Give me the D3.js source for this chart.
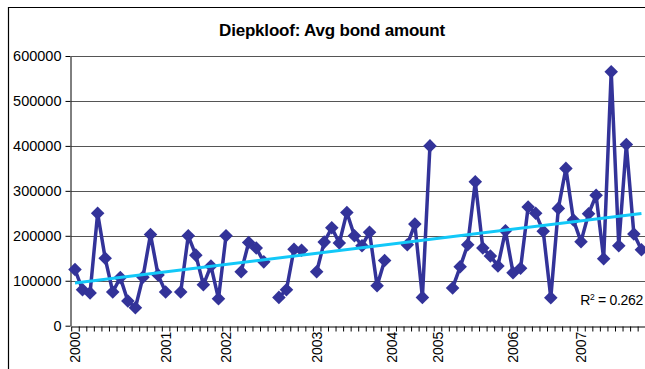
<!DOCTYPE html>
<html>
<head>
<meta charset="utf-8">
<script src="https://cdn.jsdelivr.net/npm/d3@7"></script>
<style>
  html, body { margin: 0; padding: 0; background: #fff; }
  svg { display: block; font-family: "Liberation Sans", Arial, sans-serif; }
</style>
</head>
<body>
<svg id="chart" width="645" height="369"></svg>
<script>
// Monthly average bond amount, Diepkloof (null = no registrations that month)
const bondAmount = [
  125000, 80000, 73000, 250000, 150000, 75000, 107000, 55000, 40000, 108000, 203000, 113000,
  75000, null, 75000, 200000, 157000, 91000, 133000, 60000,
  200000, null, 120000, 185000, 173000, 142000, null, 63000, 80000, 170000, 168000, null,
  120000, 186000, 218000, 184000, 252000, 200000, 178000, 208000, 89000, 145000,
  null, null, 180000, 226000, 63000, 400000,
  null, null, 84000, 131000, 180000, 320000, 173000, 155000, 133000, 211000, 118000, 128000,
  264000, 250000, 210000, 62000, 261000, 350000, 235000, 187000, 249000,
  290000, 149000, 565000, 178000, 403000, 204000, 169000
];

// Year labels and the period on which each one sits
const yearLabels = ["2000", "2001", "2002", "2003", "2004", "2005", "2006", "2007"];
const yearStartIndex = [0, 12, 20, 32, 42, 48, 58, 67];

const yTicks = [0, 100000, 200000, 300000, 400000, 500000, 600000];
const rSquared = 0.262;
const chartTitle = "Diepkloof: Avg bond amount";

const svg = d3.select("#chart");
const W = 645, H = 369;
const plot = { left: 71.2, right: 645.2, top: 56, bottom: 325.7 };

svg.append("rect").attr("width", W).attr("height", H).attr("fill", "#fff");

// outer chart frame (continues past the visible edges)
svg.append("path")
  .attr("d", `M8.5,${H + 5} V7.5 H${W + 5}`)
  .attr("fill", "none").attr("stroke", "#000").attr("stroke-width", 1.2);

const periods = d3.range(bondAmount.length);
const x = d3.scaleBand().domain(periods).range([plot.left, plot.right]).padding(0);
const cx = i => x(i) + x.bandwidth() / 2;
const xEdges = d3.scaleLinear().domain([0, periods.length]).range([plot.left, plot.right]);
const y = d3.scaleLinear().domain([0, 600000]).range([plot.bottom, plot.top]);

// horizontal gridlines
svg.append("g").selectAll("line")
  .data(yTicks.filter(t => t > 0))
  .join("line")
  .attr("x1", plot.left).attr("x2", W + 5)
  .attr("y1", d => Math.round(y(d)) + 0.5).attr("y2", d => Math.round(y(d)) + 0.5)
  .attr("stroke", "#555").attr("stroke-width", 1);

// y axis
const yAxis = svg.append("g")
  .attr("transform", `translate(${Math.round(plot.left) - 0.5},0)`)
  .call(d3.axisLeft(y).tickValues(yTicks).tickFormat(d3.format("d"))
    .tickSize(5).tickSizeOuter(0).tickPadding(4));
yAxis.select(".domain").attr("stroke", "#000");
yAxis.selectAll(".tick line").attr("stroke", "#000");
yAxis.selectAll("text")
  .attr("font-family", "'Liberation Sans', Arial, sans-serif")
  .attr("font-size", 14.5).attr("fill", "#000");

// x axis: tick marks between periods
const xTickAxis = svg.append("g")
  .attr("transform", `translate(0,${Math.round(plot.bottom) + 0.5})`)
  .call(d3.axisBottom(xEdges).tickValues(d3.range(periods.length + 1))
    .tickFormat("").tickSize(5).tickSizeOuter(0));
xTickAxis.select(".domain").attr("stroke", "#000");
xTickAxis.selectAll(".tick line").attr("stroke", "#000");

// x axis: year labels on their periods
const labelAt = new Map(yearStartIndex.map((idx, k) => [idx, yearLabels[k]]));
const xLabelAxis = svg.append("g")
  .attr("transform", `translate(0,${plot.bottom})`)
  .call(d3.axisBottom(x).tickValues(yearStartIndex)
    .tickFormat(i => labelAt.get(i)).tickSize(0));
xLabelAxis.select(".domain").remove();
xLabelAxis.selectAll("text")
  .attr("transform", "rotate(-90)")
  .attr("x", -6).attr("y", 0).attr("dy", "0.36em")
  .attr("text-anchor", "end")
  .attr("font-family", "'Liberation Sans', Arial, sans-serif")
  .attr("font-size", 14).attr("fill", "#000");

// series line
const line = d3.line()
  .defined(d => d.v != null)
  .x(d => cx(d.i)).y(d => y(d.v));
const pts = bondAmount.map((v, i) => ({ i, v }));
svg.append("path")
  .datum(pts)
  .attr("d", line)
  .attr("fill", "none").attr("stroke", "#333399")
  .attr("stroke-width", 3.5).attr("stroke-linejoin", "round");

// diamond markers
const diamond = d3.symbol(d3.symbolSquare, 92);
svg.append("g").selectAll("path")
  .data(pts.filter(d => d.v != null))
  .join("path")
  .attr("transform", d => `translate(${cx(d.i)},${y(d.v)}) rotate(45)`)
  .attr("d", diamond)
  .attr("fill", "#333399");

// linear trend (least squares over the recorded months)
const known = pts.filter(d => d.v != null);
const mx = d3.mean(known, d => d.i), my = d3.mean(known, d => d.v);
const slope = d3.sum(known, d => (d.i - mx) * (d.v - my)) / d3.sum(known, d => (d.i - mx) ** 2);
const intercept = my - slope * mx;
const trend = [0, periods.length - 1].map(i => ({ i, v: intercept + slope * i }));
svg.append("path")
  .datum(trend)
  .attr("d", d3.line().x(d => cx(d.i)).y(d => y(d.v)))
  .attr("fill", "none").attr("stroke", "#12c8f8").attr("stroke-width", 3);

// R² annotation
const r2 = svg.append("text")
  .attr("x", 643).attr("y", 305)
  .attr("text-anchor", "end")
  .attr("font-size", 14).attr("letter-spacing", -0.3).attr("fill", "#000");
r2.append("tspan").text("R");
r2.append("tspan").attr("font-size", 8.5).attr("dy", -5.5).text("2");
r2.append("tspan").attr("dy", 5.5).text(" = " + rSquared.toFixed(3));

// title
svg.append("text")
  .attr("x", 332).attr("y", 36)
  .attr("text-anchor", "middle")
  .attr("font-size", 17).attr("font-weight", "bold").attr("letter-spacing", -0.2)
  .attr("fill", "#000")
  .text(chartTitle);
</script>
</body>
</html>
